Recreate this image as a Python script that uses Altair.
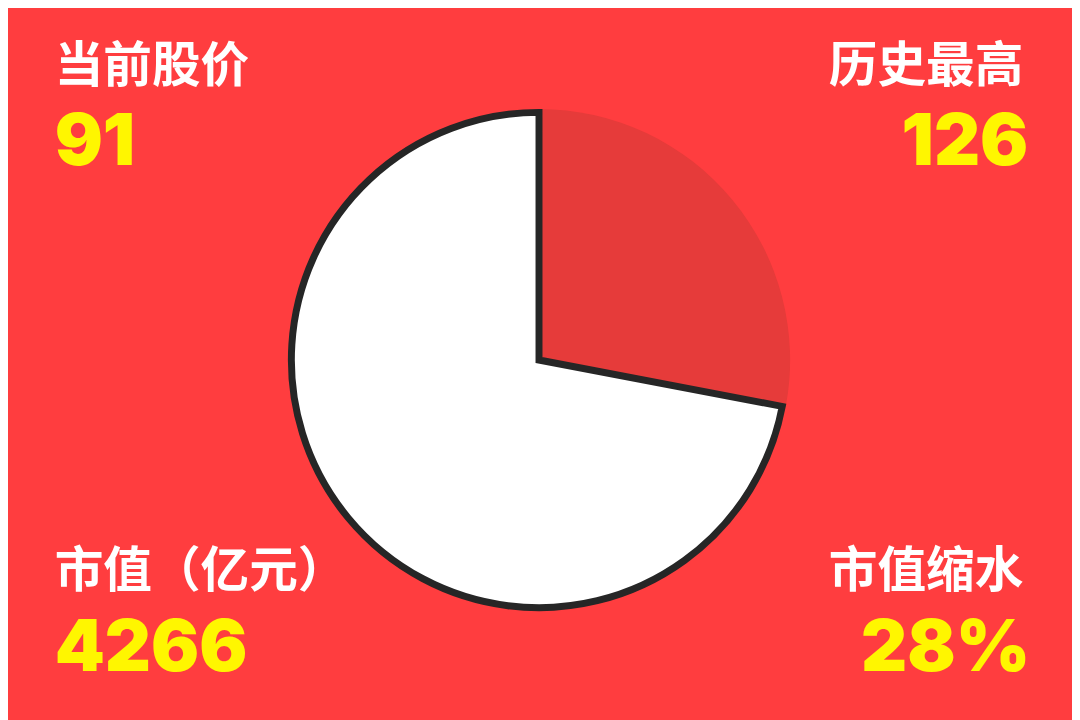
import altair as alt
import pandas as pd

# Pie data
slice_names = ["市值缩水", "剩余市值"]
slice_values = [28, 72]

# Corner labels
titles = ["当前股价", "历史最高", "市值（亿元）", "市值缩水"]
numbers = ["91", "126", "4266", "28%"]

BG = "#FF3D3F"
RED_SLICE = "#E63B3A"
STROKE = "#262626"
YELLOW = "#FFF600"

pie_df = pd.DataFrame({"name": slice_names, "value": slice_values, "idx": [0, 1]})
lab_df = pd.DataFrame({"title": titles, "number": numbers, "idx": list(range(4))})

cx, cy = 535, 352

red = alt.Chart(pie_df).mark_arc(outerRadius=253, fill=RED_SLICE, strokeWidth=0).encode(
    theta=alt.Theta("value:Q", stack=True),
    order=alt.Order("idx:Q"),
    x=alt.value(cx), y=alt.value(cy),
    opacity=alt.condition(alt.datum.idx == 0, alt.value(1), alt.value(0)),
)
white = alt.Chart(pie_df).mark_arc(outerRadius=249.5, fill="white", stroke=STROKE, strokeWidth=7, strokeJoin="miter").encode(
    theta=alt.Theta("value:Q", stack=True),
    order=alt.Order("idx:Q"),
    x=alt.value(cx), y=alt.value(cy),
    opacity=alt.condition(alt.datum.idx == 1, alt.value(1), alt.value(0)),
)

layers = [red, white]
pos = [
    (47, 47, 72, 156, "left"),
    (1023, 1028, 72, 156, "right"),
    (47, 47, 581, 665, "left"),
    (1023, 1030, 581, 665, "right"),
]
for i, (xt, xn, yt, yn, al) in enumerate(pos):
    t = alt.Chart(lab_df).transform_filter(alt.datum.idx == i).mark_text(
        font="Noto Sans CJK SC", fontWeight="bold", fontSize=49, color="white",
        align=al, baseline="alphabetic",
    ).encode(text="title:N", x=alt.value(xt), y=alt.value(yt))
    n = alt.Chart(lab_df).transform_filter(alt.datum.idx == i).mark_text(
        font="Inter", fontWeight=900, fontSize=72, color=YELLOW,
        align=al, baseline="alphabetic",
    ).encode(text="number:N", x=alt.value(xn), y=alt.value(yn))
    layers += [t, n]

chart = alt.layer(*layers).properties(
    width=1072, height=712, background=BG, padding=0,
    autosize=alt.AutoSizeParams(type="fit", contains="padding"),
).configure_view(stroke=None)

chart.save("out.html", embed_options={"renderer": "svg", "actions": False})
